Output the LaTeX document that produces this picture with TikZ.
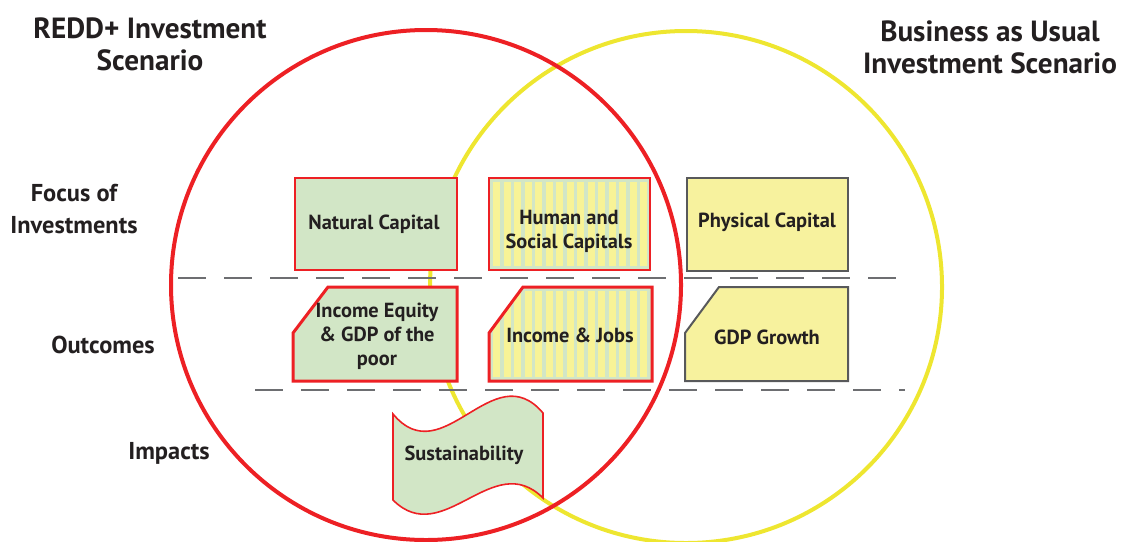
\documentclass[tikz,border=0pt]{standalone}
\usepackage{fontspec}
\setmainfont{PT Sans}
\begin{document}
\begin{tikzpicture}[x=0.5pt,y=-0.5pt]
  % Colors
  \definecolor{reddred}{RGB}{237,32,36}
  \definecolor{bauyellow}{RGB}{238,230,48}
  \definecolor{greenfill}{RGB}{210,230,198}
  \definecolor{yellowfill}{RGB}{247,242,158}
  \definecolor{stripeyellow}{RGB}{248,243,150}
  \definecolor{boxgray}{RGB}{88,89,91}
  \definecolor{dashgray}{RGB}{109,110,113}
  \definecolor{inkcolor}{RGB}{35,31,32}

  % Styles
  \tikzstyle{title text}=[font=\bfseries\fontsize{14.6}{16}\selectfont,align=center,text=inkcolor]
  \tikzstyle{row text}=[font=\bfseries\fontsize{12.2}{16}\selectfont,align=center,text=inkcolor]
  \tikzstyle{box text}=[font=\bfseries\fontsize{10.2}{12}\selectfont,align=center,text=inkcolor]
  \tikzstyle{venn circle}=[line width=2pt]
  \tikzstyle{thin red box}=[draw=reddred,line width=0.8pt]
  \tikzstyle{thick red box}=[draw=reddred,line width=1.5pt]
  \tikzstyle{gray box}=[draw=boxgray,line width=1pt]
  \tikzstyle{row line}=[draw=dashgray,line width=0.6pt,dash pattern=on 14pt off 9pt]

  \useasboundingbox (0,0) rectangle (1122,541);

  % The two scenarios
  \draw[style=venn circle,bauyellow] (686,287) circle [radius=128pt];
  \draw[style=venn circle,reddred] (426,285) circle [radius=127.5pt];

  % Rows
  \draw[style=row line] (178,278) -- (905,278);
  \draw[style=row line] (255,390) -- (905,390);

  % Focus of investments
  \filldraw[fill=greenfill,style=thin red box] (295,178) rectangle (457,270);
  \begin{scope}
    \clip (489,178) rectangle (650,270);
    \fill[greenfill] (489,178) rectangle (650,270);
    \foreach \x in {493,503.5,...,646}
      \fill[stripeyellow] (\x,182) rectangle +(7,84);
  \end{scope}
  \draw[style=thin red box] (489,178) rectangle (650,270);
  \filldraw[fill=yellowfill,style=gray box] (687,178) rectangle (848,271);

  % Outcomes
  \filldraw[fill=greenfill,style=thick red box]
    (293,333) -- (328,287) -- (457,287) -- (457,381) -- (293,381) -- cycle;
  \begin{scope}
    \clip (489,333) -- (523,287) -- (652,287) -- (652,381) -- (489,381) -- cycle;
    \fill[greenfill] (489,287) rectangle (652,381);
    \foreach \x in {493,503.5,...,648}
      \fill[stripeyellow] (\x,291) rectangle +(7,86);
  \end{scope}
  \draw[style=thick red box]
    (489,333) -- (523,287) -- (652,287) -- (652,381) -- (489,381) -- cycle;
  \filldraw[fill=yellowfill,style=gray box]
    (685,333) -- (719,287) -- (848,287) -- (848,381) -- (685,381) -- cycle;

  % Impacts
  \filldraw[fill=greenfill,style=thin red box]
    (393,414) .. controls (443,474) and (493,354) .. (543,413)
    -- (543,498) .. controls (493,448) and (443,550) .. (393,500) -- cycle;

  % Texts
  \node[title text] (reddtitle) at (150,44) {REDD+ Investment\\Scenario};
  \node[title text] (bautitle) at (990,47) {Business as Usual\\Investment Scenario};

  \node[row text] (focus) at (74,209) {Focus of\\Investments};
  \node[row text] (outcomes) at (103,345) {Outcomes};
  \node[row text] (impacts) at (169,453) {Impacts};

  \node[box text] (natural) at (374,224) {Natural Capital};
  \node[box text] (human) at (569,231) {Human and\\Social Capitals};
  \node[box text] (physical) at (767,222) {Physical Capital};
  \node[box text] (equity) at (377,336) {Income Equity\\\& GDP of the\\poor};
  \node[box text] (jobs) at (570,335) {Income \& Jobs};
  \node[box text] (gdp) at (767,337) {GDP Growth};
  \node[box text] (sustain) at (464,455) {Sustainability};
\end{tikzpicture}
\end{document}
